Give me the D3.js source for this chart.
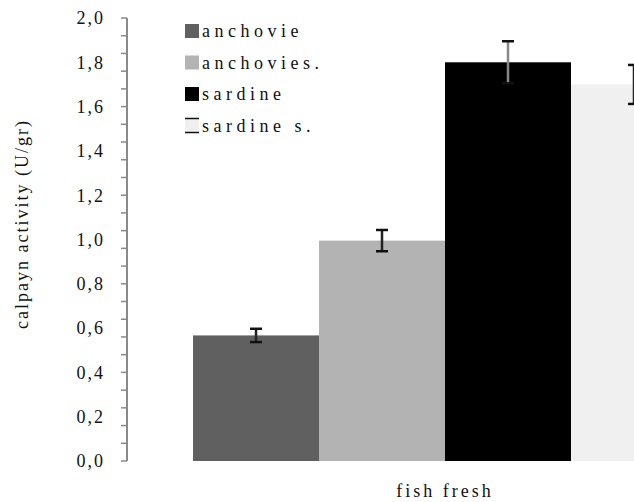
<!DOCTYPE html>
<html>
<head>
<meta charset="utf-8">
<script src="https://cdn.jsdelivr.net/npm/d3@7"></script>
<style>
  html, body { margin: 0; padding: 0; background: #fff; overflow: hidden; }
  text { font-family: "Liberation Serif", "DejaVu Serif", serif; }
</style>
</head>
<body>
<div id="chart"></div>
<script>
// data
const categories = ["fish fresh"];
const series = ["anchovie", "anchovies.", "sardine", "sardines."];
const legendLabels = ["anchovie", "anchovies.", "sardine", "sardine s."];
const values = [0.567, 0.995, 1.80, 1.70];
const errors = [0.03, 0.048, 0.095, 0.088];
const colors = ["#606060", "#b3b3b3", "#000000", "#f0f0f0"];
const yTickLabels = ["0,0", "0,2", "0,4", "0,6", "0,8", "1,0", "1,2", "1,4", "1,6", "1,8", "2,0"];

var W = 634, H = 502;
var margin = { top: 18, left: 127, bottom: 41 };

var svg = d3
  .select("#chart")
  .append("svg")
  .attr("width", W)
  .attr("height", H);

var y = d3.scaleLinear().domain([0, 2]).range([H - margin.bottom, margin.top]);

// plot area runs off the right edge of the window
var x0 = d3
  .scaleBand()
  .domain(categories)
  .range([margin.left, 763])
  .paddingInner(0)
  .paddingOuter(0.131);

var x1 = d3.scaleBand().domain(series).range([0, x0.bandwidth()]).padding(0);

// y axis: labels every 0.2, small ticks
var axis = svg.append("g").attr("transform", "translate(" + margin.left + ",0)");
axis
  .append("line")
  .attr("y1", y(2))
  .attr("y2", y(0))
  .attr("stroke", "#8a8a8a")
  .attr("stroke-width", 2);

axis
  .selectAll(".minor")
  .data(d3.range(0, 26).map((i) => i * 0.08))
  .enter()
  .append("line")
  .attr("x1", -6)
  .attr("x2", 0)
  .attr("y1", (d) => y(d))
  .attr("y2", (d) => y(d))
  .attr("stroke", "#8a8a8a")
  .attr("stroke-width", 1.5);

axis
  .selectAll(".lbl")
  .data(yTickLabels)
  .enter()
  .append("text")
  .attr("x", -22)
  .attr("y", (d, i) => y(i * 0.2))
  .attr("dy", "0.35em")
  .attr("text-anchor", "end")
  .attr("font-size", 18)
  .attr("letter-spacing", 2)
  .attr("fill", "#111")
  .text((d) => d);

// bars
var g = svg
  .selectAll(".cat")
  .data(categories)
  .enter()
  .append("g")
  .attr("transform", (d) => "translate(" + x0(d) + ",0)");

var rows = series.map((s, i) => ({ key: s, v: values[i], e: errors[i], c: colors[i] }));

g.selectAll("rect")
  .data(rows)
  .enter()
  .append("rect")
  .attr("x", (d) => x1(d.key))
  .attr("y", (d) => y(d.v))
  .attr("width", x1.bandwidth())
  .attr("height", (d) => y(0) - y(d.v))
  .attr("fill", (d) => d.c);

// error bars
var eb = g
  .selectAll(".err")
  .data(rows)
  .enter()
  .append("g")
  .attr("transform", (d) => "translate(" + (x1(d.key) + x1.bandwidth() / 2) + ",0)");

eb.append("line")
  .attr("y1", (d) => y(d.v + d.e))
  .attr("y2", (d) => y(d.v - d.e))
  .attr("stroke", (d) => (d.key == "sardine" ? "#888" : "#222"))
  .attr("stroke-width", 2.5);

eb.selectAll(".cap")
  .data((d) => [d.v + d.e, d.v - d.e].map((v) => ({ v: v, k: d.key })))
  .enter()
  .append("line")
  .attr("x1", -6)
  .attr("x2", 6)
  .attr("y1", (d) => y(d.v))
  .attr("y2", (d) => y(d.v))
  .attr("stroke", "#111")
  .attr("stroke-width", 2.5);

// category label
svg
  .selectAll(".xl")
  .data(categories)
  .enter()
  .append("text")
  .attr("x", (d) => x0(d) + x0.bandwidth() / 2)
  .attr("y", 497)
  .attr("text-anchor", "middle")
  .attr("font-size", 18)
  .attr("letter-spacing", 3)
  .attr("fill", "#111")
  .text((d) => d);

// y axis title
svg
  .append("text")
  .attr("transform", "translate(28,224) rotate(-90)")
  .attr("text-anchor", "middle")
  .attr("font-size", 18)
  .attr("letter-spacing", 2)
  .attr("fill", "#111")
  .text("calpayn activity (U/gr)");

// legend
var leg = svg
  .selectAll(".leg")
  .data(legendLabels)
  .enter()
  .append("g")
  .attr("transform", (d, i) => "translate(185," + (31 + i * 31.5) + ")");

leg
  .append("rect")
  .attr("x", 0)
  .attr("y", -7)
  .attr("width", 14)
  .attr("height", 14)
  .attr("fill", (d, i) => colors[i])
  .attr("stroke", (d, i) => (i == 3 ? "#111" : "none"))
  .attr("stroke-width", 1.5)
  .attr("stroke-dasharray", "14,14");

leg
  .append("text")
  .attr("x", 17)
  .attr("dy", "0.35em")
  .attr("font-size", 18)
  .attr("letter-spacing", 4.5)
  .attr("fill", "#111")
  .text((d) => d);
</script>
</body>
</html>
